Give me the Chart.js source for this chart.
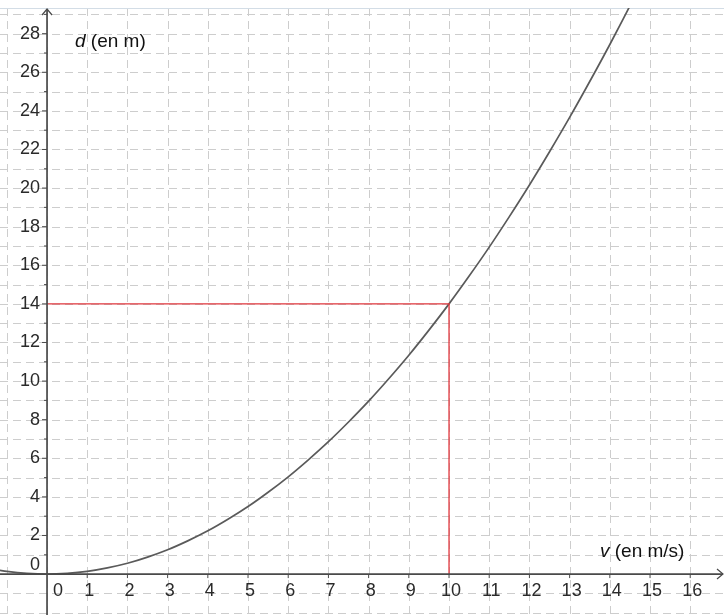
<!DOCTYPE html>
<html>
<head>
<meta charset="utf-8">
<script src="https://cdn.jsdelivr.net/npm/chart.js@4.4.1/dist/chart.umd.min.js"></script>
<style>
  html, body { margin: 0; padding: 0; background: #fff; }
  #wrap { width: 724px; height: 615px; }
</style>
</head>
<body>
<div id="wrap"><canvas id="graph"></canvas></div>
<script>
// values (v in m/s, d in m)
const speeds = [-1.2, -1, -0.5, 0, 0.5, 1, 1.5, 2, 2.5, 3, 3.5, 4, 4.5, 5, 5.5, 6, 6.5, 7, 7.5,
                8, 8.5, 9, 9.5, 10, 10.5, 11, 11.5, 12, 12.5, 13, 13.5, 14, 14.5];
const distances = [0.2, 0.14, 0.04, 0, 0.04, 0.14, 0.32, 0.56, 0.88, 1.26, 1.72, 2.24, 2.84, 3.5, 4.24,
                   5.04, 5.92, 6.86, 7.88, 8.96, 10.12, 11.34, 12.64, 14, 15.44, 16.94, 18.52, 20.16,
                   21.88, 23.66, 25.52, 27.44, 29.44];
const markerX = [0, 10, 10];
const markerY = [14, 14, 0];
const xTicks = [0, 1, 2, 3, 4, 5, 6, 7, 8, 9, 10, 11, 12, 13, 14, 15, 16];
const yTicks = [0, 2, 4, 6, 8, 10, 12, 14, 16, 18, 20, 22, 24, 26, 28];
const xGrid = [-1, 0, 1, 2, 3, 4, 5, 6, 7, 8, 9, 10, 11, 12, 13, 14, 15, 16];
const yGrid = [-2, -1, 0, 1, 2, 3, 4, 5, 6, 7, 8, 9, 10, 11, 12, 13, 14, 15, 16, 17, 18, 19, 20,
               21, 22, 23, 24, 25, 26, 27, 28, 29];
const xTitle = 'v';
const xTitleRest = ' (en m/s)';
const yTitle = 'd';
const yTitleRest = ' (en m)';

const canvas = document.getElementById('graph');
const ctx = canvas.getContext('2d');

// dashed grid behind the curve
const gridPlugin = {
  id: 'grid',
  beforeDatasetsDraw(chart) {
    const { ctx, chartArea: a, scales: { x, y } } = chart;
    ctx.save();
    ctx.strokeStyle = '#cdcdcd';
    ctx.lineWidth = 1;
    ctx.setLineDash([8, 5]);
    xGrid.forEach(v => {
      const px = Math.round(x.getPixelForValue(v)) + 0.5;
      ctx.beginPath(); ctx.moveTo(px, a.top); ctx.lineTo(px, a.bottom); ctx.stroke();
    });
    yGrid.forEach(v => {
      const py = Math.round(y.getPixelForValue(v)) + 0.5;
      ctx.beginPath(); ctx.moveTo(a.left, py); ctx.lineTo(a.right, py); ctx.stroke();
    });
    ctx.setLineDash([]);
    ctx.strokeStyle = '#d3dde6';
    ctx.beginPath(); ctx.moveTo(a.left, a.top + 0.5); ctx.lineTo(a.right, a.top + 0.5); ctx.stroke();
    ctx.restore();
  }
};

// axes, arrows, tick labels and titles
const axesPlugin = {
  id: 'axes',
  afterDatasetsDraw(chart) {
    const { ctx, chartArea: a, scales: { x, y } } = chart;
    const x0 = x.getPixelForValue(0);
    const y0 = y.getPixelForValue(0);
    ctx.save();
    ctx.strokeStyle = '#4a4a4a';
    ctx.lineWidth = 1.7;
    ctx.beginPath();
    ctx.moveTo(a.left, y0); ctx.lineTo(a.right - 1, y0);
    ctx.moveTo(x0, a.bottom); ctx.lineTo(x0, a.top + 1);
    ctx.stroke();
    ctx.lineWidth = 1.2;
    ctx.beginPath();
    ctx.moveTo(a.right - 7, y0 - 5); ctx.lineTo(a.right - 1, y0); ctx.lineTo(a.right - 7, y0 + 5);
    ctx.moveTo(x0 - 5, a.top + 7); ctx.lineTo(x0, a.top + 1); ctx.lineTo(x0 + 5, a.top + 7);
    ctx.stroke();

    // tick marks
    ctx.lineWidth = 1;
    yGrid.forEach(v => {
      if (v <= 0) return;
      const py = y.getPixelForValue(v);
      const len = v % 2 === 0 ? 5 : 3;
      ctx.beginPath(); ctx.moveTo(x0 - len, py); ctx.lineTo(x0, py); ctx.stroke();
    });
    xGrid.forEach(v => {
      if (v <= 0) return;
      const px = x.getPixelForValue(v);
      ctx.beginPath(); ctx.moveTo(px, y0); ctx.lineTo(px, y0 + 4); ctx.stroke();
    });

    ctx.fillStyle = '#2a2a2a';
    ctx.font = '18px "Liberation Sans", Arial, sans-serif';
    ctx.textAlign = 'right';
    ctx.textBaseline = 'middle';
    yTicks.forEach(v => {
      const py = y.getPixelForValue(v) + (v === 0 ? -9 : 0);
      ctx.fillText(String(v), x0 - 7, py);
    });
    ctx.textAlign = 'center';
    ctx.textBaseline = 'middle';
    xTicks.forEach(v => {
      const px = x.getPixelForValue(v) + (v === 0 ? 11 : 2);
      ctx.fillText(String(v), px, y0 + 17);
    });

    // axis titles
    ctx.fillStyle = '#111';
    ctx.textAlign = 'left';
    ctx.textBaseline = 'middle';
    const titleFont = '19px "Liberation Sans", Arial, sans-serif';
    const italic = 'italic ' + titleFont;
    let tx = 75, ty = 42;
    ctx.font = italic; ctx.fillText(yTitle, tx, ty);
    tx += ctx.measureText(yTitle).width;
    ctx.font = titleFont; ctx.fillText(yTitleRest, tx, ty);
    tx = 600; ty = 552;
    ctx.font = italic; ctx.fillText(xTitle, tx, ty);
    tx += ctx.measureText(xTitle).width;
    ctx.font = titleFont; ctx.fillText(xTitleRest, tx, ty);
    ctx.restore();
  }
};

const chart = new Chart(ctx, {
  type: 'scatter',
  data: {
    datasets: [{
      label: 'd',
      data: speeds.map((v, i) => ({ x: v, y: distances[i] })),
      showLine: true,
      borderColor: '#5a5a5a',
      borderWidth: 1.7,
      pointRadius: 0,
      cubicInterpolationMode: 'monotone',
      order: 2
    }, {
      label: 'repere',
      data: markerX.map((v, i) => ({ x: v, y: markerY[i] })),
      showLine: true,
      borderColor: '#e0363c',
      borderWidth: 1.3,
      pointRadius: 0,
      tension: 0,
      order: 1
    }]
  },
  options: {
    responsive: true,
    maintainAspectRatio: false,
    animation: false,
    layout: { padding: { top: 8, left: 0, right: 0, bottom: 0 } },
    plugins: { legend: { display: false }, tooltip: { enabled: false } },
    scales: {
      x: { type: 'linear', display: false, min: -1.17, max: 16.84 },
      y: { type: 'linear', display: false, min: -2.12, max: 29.33 }
    }
  },
  plugins: [gridPlugin, axesPlugin]
});
</script>
</body>
</html>
